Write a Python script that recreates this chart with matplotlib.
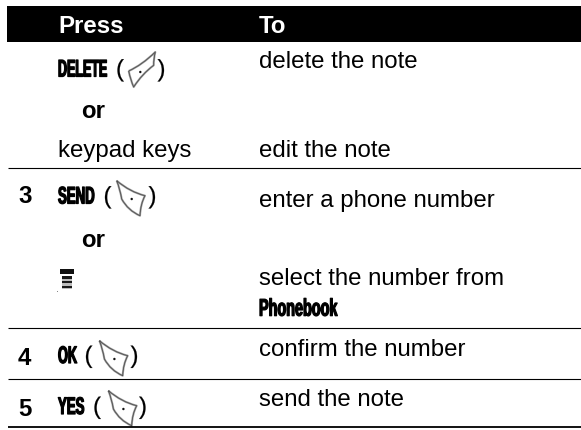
import matplotlib
matplotlib.use("Agg")
import matplotlib.pyplot as plt
from matplotlib.path import Path
from matplotlib.patches import PathPatch, Rectangle, Circle
from matplotlib.patheffects import AbstractPathEffect
from matplotlib.transforms import Affine2D

# ---- content ----
header_labels = ["Press", "To"]
step_numbers = ["3", "4", "5"]
key_labels = ["DELETE", "SEND", "OK", "YES"]
or_label = "or"
keypad_label = "keypad keys"
action_labels = ["delete the note", "edit the note", "enter a phone number",
                 "select the number from", "confirm the number", "send the note"]
menu_label = "Phonebook"

W, H = 581, 431
fig = plt.figure(figsize=(W / 100, H / 100), dpi=100, facecolor="white")
ax = fig.add_axes([0, 0, 1, 1])
ax.set_xlim(0, W)
ax.set_ylim(H, 0)
ax.axis("off")

FS = 24 * 72 / 100  # 24 px
FONT = "Liberation Sans"


class Stretch(AbstractPathEffect):
    """Stretch the glyphs vertically and thicken them (heavy condensed face)."""
    def __init__(self, sy, width=0.5):
        super().__init__()
        self.sy, self.width = sy, width

    def draw_path(self, renderer, gc, tpath, affine, rgbFace=None):
        gc0 = renderer.new_gc()
        gc0.copy_properties(gc)
        gc0.set_linewidth(self.width)
        gc0.set_foreground("black")
        renderer.draw_path(gc0, tpath, Affine2D().scale(1, self.sy) + affine, rgbFace)
        gc0.restore()


def txt(x, y, s, weight="normal", color="black", size=FS):
    return ax.text(x, y, s, fontsize=size, fontweight=weight, color=color,
                   family=FONT, ha="left", va="baseline")


def heavy(x, y, s, sx, width=0.9):
    t = txt(x, y, s, weight="bold", size=FS * sx)
    t.set_path_effects([Stretch(1 / sx, width)])
    return t


# header band and rules
ax.add_patch(Rectangle((7, 7), 574, 35.7, fc="black", ec="none"))
for y, lw in [(169.4, 0.8), (329.2, 0.8), (380.2, 0.8), (427.8, 1.3)]:
    ax.plot([8, 581], [y, y], color="black", lw=lw, solid_capstyle="butt")

txt(58, 33, header_labels[0], weight="bold", color="white")
txt(259, 33, header_labels[1], weight="bold", color="white")

# step numbers
for x, y, s in zip([18, 18, 18], [203.5, 365, 416], step_numbers):
    txt(x, y, s, weight="bold")

# key labels
heavy(58, 77.5, key_labels[0], 0.52)
heavy(58, 204.5, key_labels[1], 0.55)
heavy(58, 364, key_labels[2], 0.53)
heavy(58, 415, key_labels[3], 0.55)

# parentheses
for xl, xr, y in [(116, 157.5, 77.5), (103.5, 148.5, 204.5), (84.5, 130.5, 364), (93, 139, 415)]:
    for x, s in [(xl, "("), (xr, ")")]:
        t = txt(x, y, s)
        t.set_path_effects([Stretch(1.0, 0.15)])

# "or" and the plain press entries
txt(81, 118, or_label, weight="bold")
txt(81, 246.7, or_label, weight="bold")
txt(58, 157, keypad_label)

# action column
for y, s in zip([68, 156.7, 207.3, 285, 356, 405.7], action_labels):
    txt(259, y, s)
heavy(259, 316.7, menu_label, 0.6)

# soft-key icons
MT, L3 = Path.MOVETO, Path.LINETO
C3 = Path.CURVE3
send_verts = [(116.7, 181.7), (130, 193), (145, 196.7), (140.5, 205), (140, 216.7),
              (128, 211.5), (121.7, 200), (120, 190), (116.7, 181.7)]
send_codes = [MT, C3, L3, C3, L3, C3, L3, C3, L3]
delete_verts = [(128.7, 72), (142, 66), (155.3, 53), (153.5, 60), (153.7, 66.3),
                (142, 75), (133.7, 88), (130.5, 81), (128.7, 72)]
delete_codes = send_codes


def icon(verts, codes, dot, dx=0, dy=0):
    tr = Affine2D().translate(dx, dy) + ax.transData
    p = Path(verts, codes)
    ax.add_patch(PathPatch(p, fc="white", ec="#a0a0a0", lw=1.5, transform=tr, joinstyle="round"))
    ax.add_patch(PathPatch(p, fc="none", ec="#505050", lw=0.6, transform=tr, joinstyle="round"))
    ax.add_patch(Circle(dot, 1.2, fc="#111111", ec="none", transform=tr))


icon(delete_verts, delete_codes, (140.3, 73))
icon(send_verts, send_codes, (131.7, 200))
icon(send_verts, send_codes, (131.7, 200), dx=-17.3, dy=160)
icon(send_verts, send_codes, (131.7, 200), dx=-8.3, dy=210)

# menu key glyph
ax.add_patch(Rectangle((60, 269.5), 13.5, 5.5, fc="#111111", ec="none"))
ax.add_patch(Rectangle((62, 276.5), 9.5, 13, fc="#bdbdbd", ec="none"))
for y in [277, 281.5, 286.5]:
    ax.add_patch(Rectangle((62, y), 9.5, 2.6, fc="#1a1a1a", ec="none"))
ax.add_patch(Rectangle((57, 292), 1.2, 1, fc="#888888", ec="none"))

fig.savefig("out.png", dpi=100, facecolor="white")
